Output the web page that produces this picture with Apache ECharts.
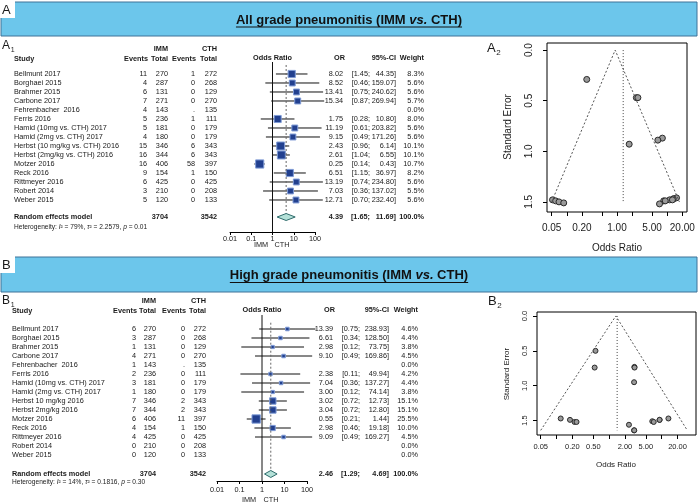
<!DOCTYPE html>
<html><head><meta charset="utf-8">
<script src="https://cdn.jsdelivr.net/npm/echarts@6/dist/echarts.min.js"></script>
<style>html,body{margin:0;padding:0;background:#fff}#c{width:700px;height:504px}</style>
</head><body><div id="c"></div>
<script>
// ---------------- DATA ----------------
const studiesA = ['Bellmunt 2017','Borghaei 2015','Brahmer 2015','Carbone 2017','Fehrenbacher  2016','Ferris 2016','Hamid (10mg vs. CTH) 2017','Hamid (2mg vs. CTH) 2017','Herbst (10 mg/kg vs. CTH) 2016','Herbst (2mg/kg vs. CTH) 2016','Motzer 2016','Reck 2016','Rittmeyer 2016','Robert 2014','Weber 2015'];
const immEventsA = [11,4,6,7,4,5,5,4,15,16,16,9,6,3,5];
const immTotalA = [270,287,131,271,143,236,181,180,346,344,406,154,425,210,120];
const cthEventsA = [1,0,0,0,'.',1,0,0,6,6,58,1,0,0,0];
const cthTotalA = [272,268,129,270,135,111,179,179,343,343,397,150,425,208,133];
const orA = [8.02,8.52,13.41,15.34,null,1.75,11.19,9.15,2.43,2.61,0.25,6.51,13.19,7.03,12.71];
const loA = [1.45,0.46,0.75,0.87,null,0.28,0.61,0.49,0.96,1.04,0.14,1.15,0.74,0.36,0.70];
const hiA = [44.35,159.07,240.62,269.94,null,10.80,203.82,171.26,6.14,6.55,0.43,36.97,234.80,137.02,232.40];
const weightA = [8.3,5.6,5.6,5.7,0.0,8.0,5.6,5.6,10.1,10.1,10.7,8.2,5.6,5.5,5.6];
const pooledA = {or:4.39, lo:1.65, hi:11.69, w:100.0, immTotal:3704, cthTotal:3542};
const hetA = {i2:'79%', tau2:'2.2579', p:'0.01'};

const studiesB = ['Bellmunt 2017','Borghaei 2015','Brahmer 2015','Carbone 2017','Fehrenbacher  2016','Ferris 2016','Hamid (10mg vs. CTH) 2017','Hamid (2mg vs. CTH) 2017','Herbst 10 mg/kg 2016','Herbst 2mg/kg 2016','Motzer 2016','Reck 2016','Rittmeyer 2016','Robert 2014','Weber 2015'];
const immEventsB = [6,3,1,4,1,2,3,1,7,7,6,4,4,0,0];
const immTotalB = [270,287,131,271,143,236,181,180,346,344,406,154,425,210,120];
const cthEventsB = [0,0,0,0,'.',0,0,0,2,2,11,1,0,0,0];
const cthTotalB = [272,268,129,270,135,111,179,179,343,343,397,150,425,208,133];
const orB = [13.39,6.61,2.98,9.10,null,2.38,7.04,3.00,3.02,3.04,0.55,2.98,9.09,null,null];
const loB = [0.75,0.34,0.12,0.49,null,0.11,0.36,0.12,0.72,0.72,0.21,0.46,0.49,null,null];
const hiB = [238.93,128.50,73.75,169.86,null,49.94,137.27,74.14,12.73,12.80,1.44,19.18,169.27,null,null];
const weightB = [4.6,4.4,3.8,4.5,0.0,4.2,4.4,3.8,15.1,15.1,25.5,10.0,4.5,0.0,0.0];
const pooledB = {or:2.46, lo:1.29, hi:4.69, w:100.0, immTotal:3704, cthTotal:3542};
const hetB = {i2:'14%', tau2:'0.1816', p:'0.30'};

const forestTicks = [0.01, 0.1, 1, 10, 100];

// funnel A2
const funOrA = [8.02,8.52,13.41,15.34,1.75,11.19,9.15,2.43,2.61,0.25,6.51,13.19,7.03,12.71];
const funSeA = [0.87,1.49,1.47,1.46,0.93,1.48,1.49,0.47,0.47,0.29,0.89,1.47,1.52,1.48];
const fillOrA = [0.052,0.060,0.070,0.087];
const fillSeA = [1.48,1.49,1.50,1.51];
const funnelShapeA = {apex:0.92, left:0.05, right:17.5, seMax:1.5, vline:1.33};
// funnel B2
const funOrB = [13.39,6.61,2.98,9.10,2.38,7.04,3.00,3.02,3.04,0.55,2.98,9.09];
const funSeB = [1.47,1.51,1.64,1.49,1.56,1.52,1.64,0.73,0.74,0.50,0.95,1.49];
const fillOrB = [0.12,0.18,0.22,0.24,0.53];
const fillSeB = [1.47,1.49,1.52,1.52,0.74];
const funnelShapeB = {apex:1.34, left:0.05, right:30.6, seMax:1.64, vline:1.42};

const funTicks = [0.05,0.10,0.20,0.50,1.00,2.00,5.00,10.00,20.00];
const funLabelsA = [0.05,0.20,1.00,5.00,20.00];
const funLabelsB = [0.05,0.20,0.50,2.00,5.00,20.00];
const seTicks = [0,0.5,1,1.5];

// ---------------- LAYOUT ----------------
const FONT = '"Liberation Sans", Arial, sans-serif';
const TXT = '#1a1a1a';
const TFS = 7.3;
const lg = v => Math.log10(v);

const LA = {grid:{left:230, top:62, width:85, height:170}, yMin:-1.333, yMax:17.556, labMargin:3,
  cols:{name:14, immE:147, immT:168, cthE:195, cthT:217, or:343, lo:370, hi:396, w:424},
  sqK:2.5, pooledRow:15.89, hetRow:17.0, dotTop:-1.0};
const LB = {grid:{left:217, top:315, width:90, height:166}, yMin:-1.556, yMax:16.889, labMargin:5,
  cols:{name:12, immE:136, immT:156, cthE:185, cthT:206, or:333, lo:360, hi:389, w:418},
  sqK:1.65, pooledRow:16.11, hetRow:17.0, dotTop:-0.7};

function tstyle(text, x, y, align, size, bold) {
  return {text:String(text), x, y, align, textAlign:align, verticalAlign:'middle', textVerticalAlign:'middle',
    font:(bold?'bold ':'')+size+'px '+FONT, fill:TXT};
}

function forestSeries(ai, d, L) {
  const rows = {
    type:'custom', xAxisIndex:ai, yAxisIndex:ai, clip:false, silent:true,
    data: d.names.map((n,i)=>[0,i]), encode:{x:0,y:1},
    renderItem:(params, api)=>{
      const i = params.dataIndex;
      const y = api.coord([0,i])[1];
      const C = L.cols, ch = [];
      const T = (s,x,a)=>({type:'text', style:tstyle(s,x,y,a,TFS,false), z2:5});
      ch.push(T(d.names[i], C.name, 'left'));
      ch.push(T(d.immE[i], C.immE, 'right'));
      ch.push(T(d.immT[i], C.immT, 'right'));
      ch.push(T(d.cthE[i], C.cthE, 'right'));
      ch.push(T(d.cthT[i], C.cthT, 'right'));
      if (d.or[i] != null) {
        const p1 = api.coord([lg(d.lo[i]), i]), p2 = api.coord([lg(d.hi[i]), i]), pc = api.coord([lg(d.or[i]), i]);
        ch.push({type:'line', shape:{x1:p1[0], y1:y, x2:p2[0], y2:y}, style:{stroke:'#111', lineWidth:1}});
        const s = L.sqK*Math.sqrt(d.w[i]);
        ch.push({type:'rect', shape:{x:pc[0]-s/2, y:y-s/2, width:s, height:s}, style:{fill:'#22408f', stroke:'#7f9bd6', lineWidth:1}});
        ch.push(T(d.or[i].toFixed(2), C.or, 'right'));
        ch.push(T('['+d.lo[i].toFixed(2)+';', C.lo, 'right'));
        ch.push(T(d.hi[i].toFixed(2)+']', C.hi, 'right'));
      }
      ch.push(T(d.w[i].toFixed(1)+'%', C.w, 'right'));
      return {type:'group', children:ch};
    }
  };
  const summary = {
    type:'custom', xAxisIndex:ai, yAxisIndex:ai, clip:false, silent:true,
    data:[[lg(d.pooled.or), L.pooledRow]], encode:{x:0,y:1},
    renderItem:(params, api)=>{
      const P = d.pooled, r = L.pooledRow, C = L.cols;
      const y = api.coord([0, r])[1];
      const top = api.coord([0, L.yMin])[1], bot = api.coord([0, L.yMax])[1];
      const x1 = api.coord([0, r])[0];
      const xp = api.coord([lg(P.or), r])[0], xl = api.coord([lg(P.lo), r])[0], xh = api.coord([lg(P.hi), r])[0];
      const yd = api.coord([0, L.dotTop])[1];
      const yh = api.coord([0, L.hetRow])[1];
      const B = (s,x,a)=>({type:'text', style:tstyle(s,x,y,a,TFS,true)});
      const ch = [
        {type:'line', shape:{x1:x1, y1:top, x2:x1, y2:bot}, style:{stroke:'#111', lineWidth:1}},
        {type:'line', shape:{x1:xp, y1:yd, x2:xp, y2:y}, style:{stroke:'#666', lineWidth:1, lineDash:[2,2]}},
        {type:'polygon', shape:{points:[[xl,y],[xp,y-3.5],[xh,y],[xp,y+3.5]]}, style:{fill:'#b4e1d8', stroke:'#2e6b6b', lineWidth:1}},
        B('Random effects model', C.name, 'left'),
        B(P.immTotal, C.immT, 'right'),
        B(P.cthTotal, C.cthT, 'right'),
        B(P.or.toFixed(2), C.or, 'right'),
        B('['+P.lo.toFixed(2)+';', C.lo, 'right'),
        B(P.hi.toFixed(2)+']', C.hi, 'right'),
        B(P.w.toFixed(1)+'%', C.w, 'right'),
        {type:'text', style:{x:C.name, y:yh, align:'left', textAlign:'left', verticalAlign:'middle', textVerticalAlign:'middle',
          text:'{n|Heterogeneity: }{i|I}{n|² = '+d.het.i2+', }{i|τ}{n|² = '+d.het.tau2+', }{i|p}{n| = '+d.het.p+'}',
          rich:{n:{fontSize:6.6, fontFamily:FONT, fill:TXT, color:TXT}, i:{fontSize:6.6, fontFamily:FONT, fontStyle:'italic', fill:TXT, color:TXT}}}}
      ];
      return {type:'group', children:ch};
    }
  };
  return [rows, summary];
}

function forestAxes(gi, L) {
  const lab = {}; forestTicks.forEach(t=>{ lab[String(Math.round(lg(t)))] = String(t); });
  return {
    x:{type:'value', gridIndex:gi, min:-2, max:2, interval:1,
      axisLine:{show:true, onZero:false, lineStyle:{color:'#000', width:1}},
      axisTick:{show:true, length:3, lineStyle:{color:'#000'}},
      axisLabel:{fontSize:TFS, fontFamily:FONT, color:TXT, margin:L.labMargin, formatter:v=>lab[String(Math.round(v))]},
      splitLine:{show:false}},
    y:{type:'value', gridIndex:gi, min:L.yMin, max:L.yMax, inverse:true, show:false,
      axisLine:{onZero:false}, splitLine:{show:false}}
  };
}

function funnelAxes(gi, xr, yr, labels, fs, xm, ym) {
  return {
    x:{type:'value', gridIndex:gi, min:lg(xr[0]), max:lg(xr[1]),
      axisLine:{show:false, onZero:false},
      axisTick:{show:true, length:4, customValues:funTicks.map(lg), lineStyle:{color:'#000'}},
      axisLabel:{customValues:labels.map(lg), formatter:v=>Math.pow(10,v).toFixed(2), fontSize:fs, fontFamily:FONT, color:TXT, margin:xm, hideOverlap:false},
      splitLine:{show:false}},
    y:{type:'value', gridIndex:gi, min:yr[0], max:yr[1], inverse:true,
      axisLine:{show:false, onZero:false},
      axisTick:{show:true, length:4, customValues:seTicks, lineStyle:{color:'#000'}},
      axisLabel:{customValues:seTicks, formatter:v=>v.toFixed(1), rotate:90, fontSize:fs, fontFamily:FONT, color:TXT, margin:ym},
      splitLine:{show:false}}
  };
}

function funnelSeries(ai, ors, ses, fors, fses, F, sz) {
  const pts = ors.map((o,i)=>[lg(o), ses[i]]).concat(fors.map((o,i)=>[lg(o), fses[i]]));
  return [
    {type:'line', xAxisIndex:ai, yAxisIndex:ai, symbol:'none', silent:true,
      data:[[lg(F.left),F.seMax],[lg(F.apex),0],[lg(F.right),F.seMax]],
      lineStyle:{color:'#555', width:1, type:[2,2]}},
    {type:'line', xAxisIndex:ai, yAxisIndex:ai, symbol:'none', silent:true,
      data:[[lg(F.vline),0],[lg(F.vline),F.seMax]],
      lineStyle:{color:'#444', width:1, type:[1,2]}},
    {type:'scatter', xAxisIndex:ai, yAxisIndex:ai, symbol:'circle', symbolSize:sz, silent:true,
      data:pts, itemStyle:{color:'#9a9a9a', borderColor:'#2a2a2a', borderWidth:1, opacity:1}}
  ];
}

const dA = {names:studiesA, immE:immEventsA, immT:immTotalA, cthE:cthEventsA, cthT:cthTotalA, or:orA, lo:loA, hi:hiA, w:weightA, pooled:pooledA, het:hetA};
const dB = {names:studiesB, immE:immEventsB, immT:immTotalB, cthE:cthEventsB, cthT:cthTotalB, or:orB, lo:loB, hi:hiB, w:weightB, pooled:pooledB, het:hetB};

const fA = forestAxes(0, LA), fB = forestAxes(2, LB);
const uA = funnelAxes(1, [0.0404, 24.8], [-0.07, 1.6], funLabelsA, 10, 11, 13);
const uB = funnelAxes(3, [0.0425, 44.8], [-0.057, 1.707], funLabelsB, 7.5, 8, 8);

// ---------------- GRAPHIC (frame, titles, headers) ----------------
const G = [];
function gtext(x, y, text, o) {
  o = o || {};
  const al = o.align || 'left';
  G.push({type:'text', x, y, rotation:o.rot||0, z:10, silent:true,
    style:{text, align:al, textAlign:al, verticalAlign:'middle', textVerticalAlign:'middle',
      font:(o.italic?'italic ':'')+(o.bold?'bold ':'')+(o.size||TFS)+'px '+FONT, fill:o.color||TXT}});
}
const ctx = document.createElement('canvas').getContext('2d');
function tw(s, font){ ctx.font = font; return ctx.measureText(s).width; }

function banner(y, h, letter, pre, post) {
  G.push({type:'rect', z:1, silent:true, shape:{x:1, y:y, width:696, height:h}, style:{fill:'#6cc6eb', stroke:'#3f7298', lineWidth:1}});
  G.push({type:'rect', z:2, silent:true, shape:{x:0, y:y-1, width:15, height:17}, style:{fill:'#fff'}});
  gtext(2, y+8, letter, {size:13});
  const ty = y + h/2 + 1;
  const fb = 'bold 13px '+FONT, fi = 'italic bold 13px '+FONT;
  const w = tw(pre, fb) + tw('vs.', fi) + tw(post, fb);
  const cx = 349;
  G.push({type:'text', x:cx, y:ty, z:10, silent:true, style:{
    text:'{b|'+pre+'}{i|vs.}{b|'+post+'}', align:'center', textAlign:'center', verticalAlign:'middle', textVerticalAlign:'middle',
    rich:{b:{fontSize:13, fontWeight:'bold', fontFamily:FONT, fill:'#111', color:'#111'},
          i:{fontSize:13, fontWeight:'bold', fontStyle:'italic', fontFamily:FONT, fill:'#111', color:'#111'}}}});
  G.push({type:'line', z:10, silent:true, shape:{x1:cx-w/2, y1:ty+7, x2:cx+w/2, y2:ty+7}, style:{stroke:'#111', lineWidth:1}});
}
banner(2, 34, 'A', 'All grade pneumonitis (IMM ', ' CTH)');
banner(257, 35, 'B', 'High grade pneumonitis (IMM ', ' CTH)');

function panelLabel(x, y, L, sub, size) {
  gtext(x, y, L, {size:size});
  gtext(x + size*0.72, y + size*0.35, sub, {size:Math.round(size*0.6)});
}
panelLabel(2, 46, 'A', '1', 12);
panelLabel(487, 48, 'A', '2', 13);
panelLabel(2, 301, 'B', '1', 12);
panelLabel(488, 301, 'B', '2', 13);

function headers(L, yTop, yHead, yAx, imm, cth) {
  const C = L.cols, b = {bold:true, align:'right'};
  gtext(C.immT, yTop, 'IMM', b);
  gtext(C.cthT, yTop, 'CTH', b);
  gtext(C.name, yHead, 'Study', {bold:true});
  gtext(C.immE+1, yHead, 'Events', b);
  gtext(C.immT, yHead, 'Total', b);
  gtext(C.cthE+1, yHead, 'Events', b);
  gtext(C.cthT, yHead, 'Total', b);
  const x1 = L.grid.left + L.grid.width/2;
  gtext(x1, yHead-1, 'Odds Ratio', {bold:true, align:'center'});
  gtext(C.or+2, yHead-1, 'OR', b);
  gtext(C.hi, yHead-1, '95%-CI', b);
  gtext(C.w, yHead-1, 'Weight', b);
  gtext(imm, yAx, 'IMM', {align:'center'});
  gtext(cth, yAx, 'CTH', {align:'center'});
}
headers(LA, 49, 59, 245, 261, 282);
headers(LB, 301, 311, 500, 249, 271);

gtext(508, 127, 'Standard Error', {size:10, align:'center', rot:Math.PI/2});
gtext(617, 248, 'Odds Ratio', {size:10, align:'center'});
gtext(507, 374, 'Standard Error', {size:8, align:'center', rot:Math.PI/2});
gtext(616, 465, 'Odds Ratio', {size:8, align:'center'});

// ---------------- OPTION ----------------
const noBounds = {outerBoundsMode:'none', containLabel:false};
const option = {
  animation:false,
  backgroundColor:'#fff',
  grid:[
    Object.assign({}, LA.grid, noBounds),
    Object.assign({left:547, top:43, width:140, height:169, show:true, borderColor:'#000', borderWidth:1}, noBounds),
    Object.assign({}, LB.grid, noBounds),
    Object.assign({left:537, top:312, width:159, height:123, show:true, borderColor:'#000', borderWidth:1}, noBounds)
  ],
  xAxis:[fA.x, uA.x, fB.x, uB.x],
  yAxis:[fA.y, uA.y, fB.y, uB.y],
  series:[].concat(
    forestSeries(0, dA, LA),
    funnelSeries(1, funOrA, funSeA, fillOrA, fillSeA, funnelShapeA, 6),
    forestSeries(2, dB, LB),
    funnelSeries(3, funOrB, funSeB, fillOrB, fillSeB, funnelShapeB, 5)
  ),
  graphic:{elements:G}
};
const chart = echarts.init(document.getElementById('c'), null, {renderer:'canvas'});
chart.setOption(option);
</script>
</body></html>
